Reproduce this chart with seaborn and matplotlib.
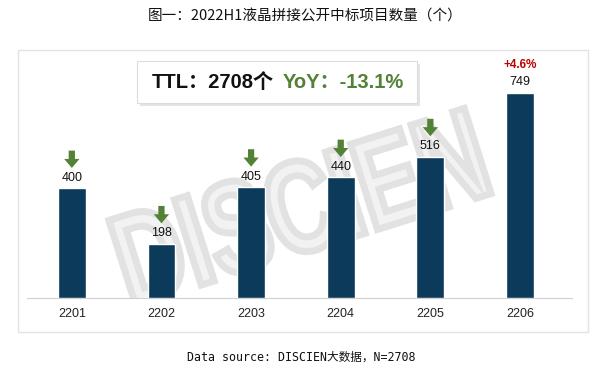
import matplotlib
matplotlib.use('Agg')
import matplotlib.pyplot as plt
import matplotlib.patheffects as pe
from matplotlib.patches import Rectangle, FancyArrow, PathPatch
from matplotlib.offsetbox import AnnotationBbox, DrawingArea
from matplotlib.textpath import TextPath
from matplotlib.font_manager import FontProperties
from matplotlib.transforms import Affine2D, IdentityTransform
import pandas as pd
import seaborn as sns

# data
months = ['2201', '2202', '2203', '2204', '2205', '2206']
counts = [400, 198, 405, 440, 516, 749]
yoy_marks = ['down', 'down', 'down', 'down', 'down', '+4.6%']
title = '图一：2022H1液晶拼接公开中标项目数量（个）'
ttl_text = 'TTL：2708个'
yoy_text = 'YoY：-13.1%'
source_text = 'Data source: DISCIEN大数据，N=2708'

bar_color = '#0b3a5b'
green = '#538135'
red = '#c00000'

sns.set_style('white')
plt.rcParams['font.family'] = ['Liberation Sans', 'Noto Sans CJK SC', 'DejaVu Sans']

df = pd.DataFrame({'month': months, 'count': counts})

fig = plt.figure(figsize=(6.1, 3.8), dpi=100)
fig.patch.set_facecolor('white')

# outer light frame
fig.patches.append(Rectangle((18 / 610, 1 - 332 / 380), 570 / 610, 282 / 380,
                             transform=fig.transFigure, fill=False,
                             edgecolor='#e3e3e3', linewidth=1.0))

ax = fig.add_axes([27 / 610, 1 - 298 / 380, 545 / 610, 238 / 380])
ax.set_facecolor('none')

# watermark behind the bars: condensed, tilted block letters
wm = TextPath((0, 0), 'DISCIEN', size=100,
              prop=FontProperties(family='Liberation Sans', weight='bold'))
ext = wm.get_extents()
cx, cy = (ext.x0 + ext.x1) / 2, (ext.y0 + ext.y1) / 2
wm_tr = (Affine2D().translate(-cx, -cy).scale(0.95, 1.3).rotate_deg(17.5)
         .translate(300, 380 - 207) + IdentityTransform())
ax.add_patch(PathPatch(wm, transform=wm_tr, facecolor='#f2f2f2',
                       edgecolor='#e2e2e2', linewidth=5, zorder=1,
                       joinstyle='miter'))

sns.barplot(data=df, x='month', y='count', color=bar_color, width=0.31,
            saturation=1, ax=ax, zorder=3)

ax.set_xlim(-0.5, 5.58)
ax.set_ylim(0, 869)
ax.set_xlabel('')
ax.set_ylabel('')
ax.set_yticks([])
ax.tick_params(axis='x', length=0, pad=7, labelsize=9, labelcolor='#222222')
sns.despine(ax=ax, left=True)
ax.spines['bottom'].set_color('#d0d0d0')
ax.spines['bottom'].set_linewidth(0.8)

for i, (v, mark) in enumerate(zip(counts, yoy_marks)):
    ax.annotate(str(v), xy=(i, v), xytext=(0, 7.5), textcoords='offset points',
                ha='center', va='center', fontsize=9, color='#111111', zorder=5)
    if mark == 'down':
        da = DrawingArea(11, 12.5, 0, 0)
        da.add_artist(FancyArrow(5.5, 12.5, 0, -12.5, width=4.5, head_width=11,
                                 head_length=6.5, length_includes_head=True,
                                 color=green, linewidth=0))
        ab = AnnotationBbox(da, (i, v), xybox=(0, 21), xycoords='data',
                            boxcoords='offset points', frameon=False, pad=0,
                            zorder=6)
        ax.add_artist(ab)
    else:
        ax.annotate(mark, xy=(i, v), xytext=(0, 20), textcoords='offset points',
                    ha='center', va='center', fontsize=8.5, fontweight='bold',
                    color=red, zorder=5)

# TTL box
box = Rectangle((137 / 610, 1 - 103 / 380), 280 / 610, 42 / 380,
                transform=fig.transFigure, facecolor='white',
                edgecolor='#dcdcdc', linewidth=0.8, zorder=8,
                path_effects=[pe.SimplePatchShadow(offset=(2, -2), alpha=0.15),
                              pe.Normal()])
fig.patches.append(box)
fig.text(152 / 610, 1 - 83 / 380, ttl_text, fontsize=14.5, fontweight='bold',
         color='#111111', ha='left', va='center', zorder=9)
fig.text(283 / 610, 1 - 83 / 380, yoy_text, fontsize=14.5, fontweight='bold',
         color=green, ha='left', va='center', zorder=9)

fig.text(0.5, 1 - 17 / 380, title, fontsize=10.5, ha='center', va='center',
         family=['Noto Sans CJK SC', 'DejaVu Sans'], color='#111111')
fig.text(301 / 610, 1 - 357 / 380, source_text, fontsize=8.4, ha='center',
         va='center', family=['DejaVu Sans Mono', 'Noto Sans CJK SC'],
         color='#111111')

fig.savefig('out.png', dpi=100)
